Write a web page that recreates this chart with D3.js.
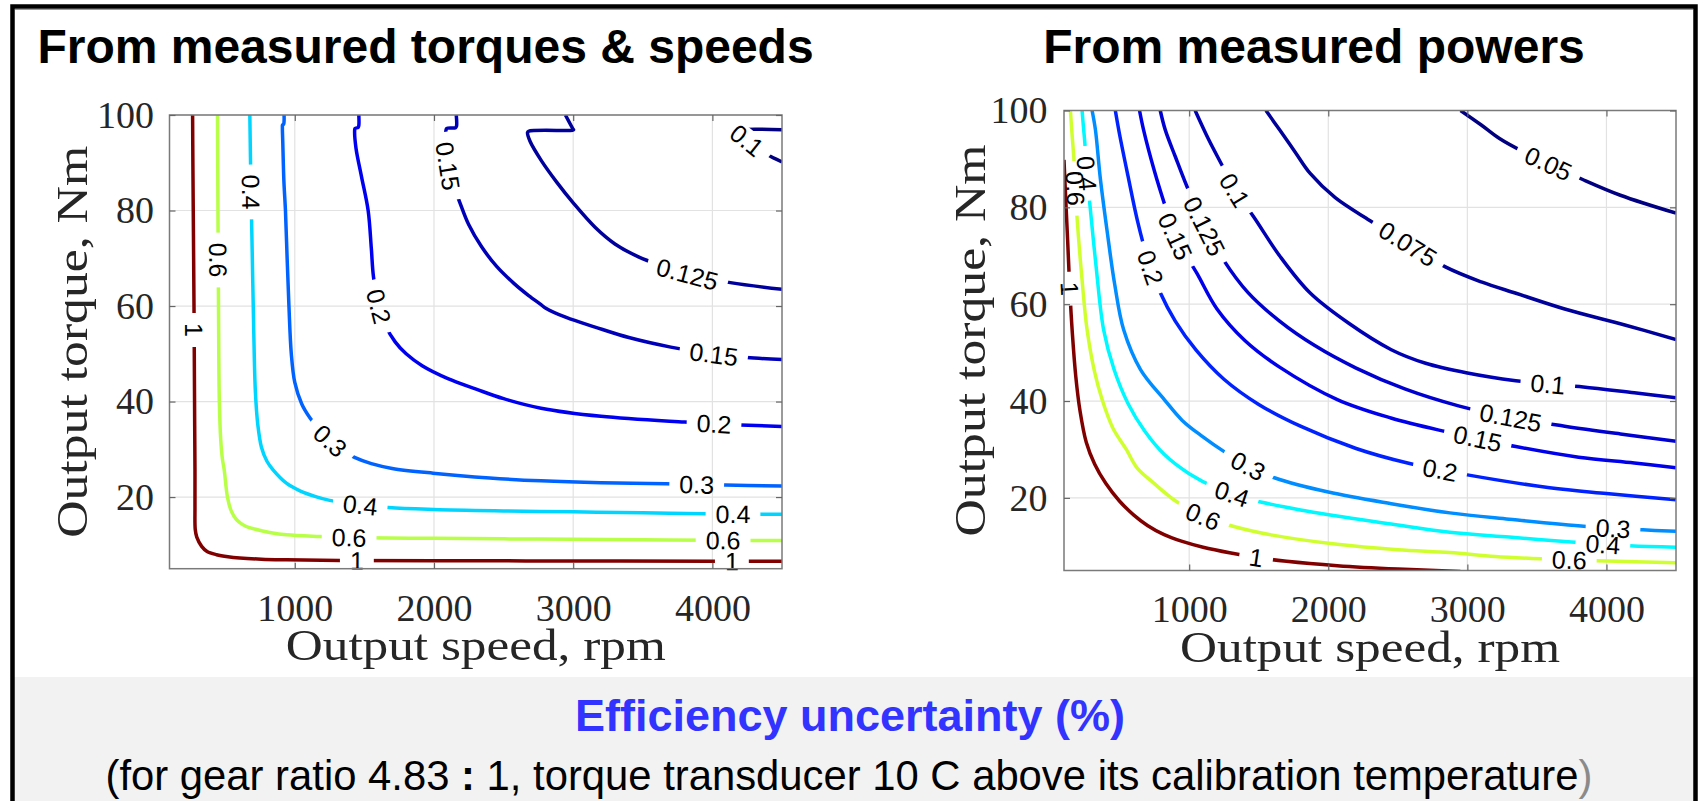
<!DOCTYPE html>
<html><head><meta charset="utf-8">
<script src="https://cdn.jsdelivr.net/npm/d3@7"></script>
<style>
html,body{margin:0;padding:0;background:#fff;}
svg{display:block;}
</style></head>
<body>
<svg id="c" width="1699" height="801"></svg>
<script>
// ================= DATA =================
const speedDomain = [100, 4500];
const torqueDomain = [5, 100];
const speedTicks = [1000, 2000, 3000, 4000];
const torqueTicks = [20, 40, 60, 80, 100];

const panelTitles = ["From measured torques & speeds", "From measured powers"];
const xLabelText = "Output speed, rpm";
const yLabelText = "Output torque, Nm";
const footerTitle = "Efficiency uncertainty (%)";
const footerNote = ["(for gear ratio 4.83 ", ":", " 1, torque transducer 10 C above its calibration temperature", ")"];

// ---- left panel: from measured torques & speeds  ([speed rpm, torque Nm]) ----
const leftLevels = [1, 0.6, 0.4, 0.3, 0.2, 0.15, 0.125, 0.1];
const left_1 = [[266,100],[268,90],[272,75],[276,60],[279,45],[281,35],[283,25.7],[283,18],[285,13.2],[296,11.6],[331,9.67],[370,8.6],[438,7.93],[520,7.5],[605,7.24],[760,7.0],[940,6.88],[1322,6.74],[2000,6.68],[3000,6.62],[4000,6.58],[4500,6.55]];
const left_06 = [[445,100],[448,80],[452,60],[458,40],[468,32],[480,28],[493,25.7],[517,19.9],[545,17],[582,15.25],[640,14.0],[725,13.2],[820,12.6],[940,12.1],[1178,11.76],[1500,11.5],[2000,11.35],[2500,11.25],[3000,11.15],[3500,11.05],[4000,10.95],[4500,10.9]];
const left_04 = [[677,100],[685,85],[695,70],[705,55],[717,42],[735,35],[760,30.5],[800,27.5],[844,25.7],[940,22.9],[1037,21.3],[1150,20.1],[1251,19.3],[1400,18.6],[1673,17.8],[2000,17.4],[2500,17.1],[3000,16.9],[3500,16.7],[3934,16.5],[4500,16.4]];
const left_03 = [[923,100],[923,98.7],[920,98.1],[912,97.9],[911,97.4],[914,94],[922,86],[933,80],[945,70],[958,60],[975,50],[1000,44],[1050,39.5],[1111,36.5],[1180,34],[1254,31.8],[1340,29.8],[1429,28.3],[1550,27.0],[1700,26.0],[1993,25.0],[2400,24.0],[2769,23.4],[3200,23.0],[3663,22.8],[4090,22.5],[4500,22.3]];
const left_02 = [[1460,100],[1460,97.8],[1455,97.4],[1433,97.2],[1430,96.7],[1440,93],[1480,87],[1527,80],[1550,72],[1565,66.2],[1604,59.9],[1650,56],[1721,52.5],[1800,50],[1915,47.5],[2100,44.8],[2303,42.6],[2500,40.6],[2769,38.6],[3200,36.9],[3800,35.7],[4200,35.1],[4500,34.8]];
const left_015 = [[2160,100],[2162,97.7],[2155,97.35],[2092,97.2],[2086,96.8],[2090,94],[2101,89.2],[2130,86],[2179,82.2],[2250,77],[2342,72.4],[2450,68.3],[2576,64.7],[2680,62.2],[2769,60.3],[2800,59.6],[2950,57.6],[3157,55.6],[3400,53.4],[3701,51.4],[4012,49.9],[4300,49.1],[4500,48.8]];
const left_0125 = [[2944,100],[2998,97.1],[3003,96.9],[2995,96.8],[2680,96.6],[2672,96.3],[2690,94.5],[2770,90.5],[2880,86],[3003,81.5],[3157,76.5],[3300,73],[3469,70.3],[3650,68.3],[3819,66.7],[4129,64.9],[4500,63.5]];
const left_01 = [[4500,96.9],[4215,96.9],[4200,96.7],[4195,96.2],[4290,93.8],[4390,91.8],[4500,90.2]];
const leftLabels = [
  [1, 272, 55], [1, 1449, 6.7], [1, 4137, 6.6],
  [0.6, 450, 69.7], [0.6, 1390, 11.5], [0.6, 4078, 10.95],
  [0.4, 690, 83.8], [0.4, 1468, 18.5], [0.4, 4148, 16.45],
  [0.3, 1254, 31.8], [0.3, 3884, 22.7],
  [0.2, 1604, 59.9], [0.2, 4012, 35.3],
  [0.15, 2101, 89.2], [0.15, 4012, 49.9],
  [0.125, 3819, 66.7],
  [0.1, 4240, 94.5]
];

// ---- right panel: from measured powers ----
const rightLevels = [1, 0.6, 0.4, 0.3, 0.2, 0.15, 0.125, 0.1, 0.075, 0.05];
const right_1 = [[100,89.8],[112,82],[126,73.3],[140,64],[160,54],[185,45],[215,38],[260,31.5],[320,27],[400,23],[500,19.3],[600,16.5],[700,14.3],[820,12.4],[950,11.0],[1100,9.8],[1300,8.6],[1481,7.7],[1700,6.9],[2065,6.0],[2500,5.3],[2950,4.8]];
const right_06 = [[146,100],[158,95],[170,90.5],[182,84],[194,77.8],[230,65],[266,54.7],[320,46],[374,40.3],[450,34.5],[548,30],[625,26.2],[743,23.1],[900,19.4],[1091,16.3],[1295,14.3],[1600,12.3],[2065,10.4],[2500,9.3],[2874,8.7],[3200,7.9],[3544,7.4],[3999,6.95],[4500,6.6]];
const right_04 = [[230,100],[240,96.5],[249,93.6],[265,87],[284,81.2],[330,68],[385,54.7],[460,46.5],[560,39.5],[680,33.8],[820,29.0],[1000,25.0],[1200,22.0],[1450,19.6],[1800,17.5],[2453,14.6],[2874,12.9],[3300,11.9],[3747,10.9],[4165,10.1],[4500,9.8]];
const right_03 = [[302,100],[326,96],[361,86],[409,75.3],[465,64],[529,54.7],[650,46.5],[821,40.3],[950,36],[1094,32.7],[1249,29.6],[1424,26.6],[1618,24.1],[2000,21.2],[2453,18.8],[2874,16.9],[3300,15.6],[3855,14.1],[4262,13.4],[4500,13.1]];
const right_02 = [[469,100],[500,95],[560,86.5],[630,77],[700,69.5],[790,62.5],[900,56.5],[1050,50.5],[1250,44.5],[1500,39.3],[1800,34.8],[2200,30.2],[2570,27.2],[2990,24.8],[3592,22.1],[4000,20.9],[4500,19.6]];
const right_015 = [[643,100],[672,96],[750,87.5],[828,80.2],[900,74],[1055,66.4],[1200,59],[1400,52.5],[1650,47],[2065,40.3],[2450,36.5],[2842,33.7],[3100,32.1],[3348,30.6],[3800,28.4],[4200,27.2],[4500,26.2]];
const right_0125 = [[792,100],[828,96],[900,90.5],[984,84.3],[1103,76.5],[1250,69],[1420,62.5],[1650,56.5],[1900,51.5],[2200,46.8],[2550,42.5],[2936,39],[3308,36.6],[3700,34.8],[4100,33.2],[4500,31.7]];
const right_01 = [[1043,100],[1140,94],[1247,88.1],[1326,83.6],[1462,78.1],[1650,70],[1870,62.3],[2150,56],[2453,50.6],[2700,47.8],[3000,45.8],[3348,44.2],[3580,43.5],[3833,42.9],[4200,41.7],[4500,40.7]];
const right_0075 = [[1552,100],[1650,96],[1760,91.5],[1870,87],[2050,82],[2298,77.3],[2570,72.5],[2842,67.7],[3100,64.6],[3355,62.2],[3700,59],[4132,55.7],[4500,52.7]];
const right_005 = [[2951,100],[3100,97],[3231,94.2],[3400,91.5],[3580,89.1],[3833,85.7],[4100,82.5],[4500,78.8]];
const rightLabels = [
  [1, 150, 63.3], [1, 1481, 7.6],
  [0.6, 176, 84], [0.6, 1091, 15.6], [0.6, 3735, 7.1],
  [0.4, 262, 87], [0.4, 1307, 20.6], [0.4, 3974, 10.4],
  [0.3, 1424, 26.6], [0.3, 4046, 13.7],
  [0.2, 708, 67.4], [0.2, 2802, 26.0],
  [0.15, 900, 74], [0.15, 3075, 32.2],
  [0.125, 1103, 76], [0.125, 3308, 36.5],
  [0.1, 1326, 83.6], [0.1, 3580, 43.6],
  [0.075, 2570, 72.5],
  [0.05, 3580, 89.1]
];

// ================= LAYOUT / STYLE =================
const W = 1699, H = 801;
const svg = d3.select('#c');
const defs = svg.append('defs');

function jet(v) {
  const c = f => Math.min(1, Math.max(0, f));
  return d3.rgb(255 * c(1.5 - Math.abs(4 * v - 3)), 255 * c(1.5 - Math.abs(4 * v - 2)), 255 * c(1.5 - Math.abs(4 * v - 1))).formatHex();
}

// footer band
svg.append('rect').attr('x', 12).attr('y', 677).attr('width', 1683).attr('height', 140).attr('fill', '#f2f2f2');

const panels = [
  { id: 'L', x0: 169.5, x1: 782, y0: 115, y1: 568.7, lw: 3.5,
    levels: leftLevels, lines: [left_1, left_06, left_04, left_03, left_02, left_015, left_0125, left_01], labels: leftLabels,
    titleX: 425.5, ytickPad: 15.5, xlabY: 660, ylabX: 87 },
  { id: 'R', x0: 1064, x1: 1676, y0: 110.5, y1: 570.5, lw: 3.5,
    levels: rightLevels, lines: [right_1, right_06, right_04, right_03, right_02, right_015, right_0125, right_01, right_0075, right_005], labels: rightLabels,
    titleX: 1314, ytickPad: 16.6, xlabY: 661.5, ylabX: 985 }
];

const labelFont = 25, labelPad = 10;

panels.forEach((p, pi) => {
  const g = svg.append('g');
  const x = d3.scaleLinear().domain(speedDomain).range([p.x0, p.x1]);
  const y = d3.scaleLinear().domain(torqueDomain).range([p.y1, p.y0]);

  // title
  svg.append('text').attr('x', p.titleX).attr('y', 63).attr('text-anchor', 'middle')
    .attr('font-family', 'Liberation Sans, Arial, sans-serif').attr('font-weight', 'bold')
    .attr('font-size', 48).attr('fill', '#000').text(panelTitles[pi]);

  // grid
  g.append('g').selectAll('line').data(speedTicks).join('line')
    .attr('x1', d => x(d)).attr('x2', d => x(d)).attr('y1', p.y0).attr('y2', p.y1)
    .attr('stroke', '#e2e2e2').attr('stroke-width', 1.2);
  g.append('g').selectAll('line').data(torqueTicks).join('line')
    .attr('y1', d => y(d)).attr('y2', d => y(d)).attr('x1', p.x0).attr('x2', p.x1)
    .attr('stroke', '#e2e2e2').attr('stroke-width', 1.2);

  // clip
  const cid = 'clip' + p.id;
  defs.append('clipPath').attr('id', cid).append('rect')
    .attr('x', p.x0).attr('y', p.y0).attr('width', p.x1 - p.x0).attr('height', p.y1 - p.y0);

  const line = d3.line().x(d => x(d[0])).y(d => y(d[1])).curve(d3.curveCatmullRom.alpha(0.5));
  const lmin = d3.min(p.levels), lmax = d3.max(p.levels);
  const cg = g.append('g').attr('clip-path', `url(#${cid})`);
  const labelG = g.append('g');

  p.levels.forEach((lev, i) => {
    const maskId = `m${p.id}${i}`;
    const mask = defs.append('mask').attr('id', maskId).attr('maskUnits', 'userSpaceOnUse')
      .attr('x', 0).attr('y', 0).attr('width', W).attr('height', H);
    mask.append('rect').attr('x', 0).attr('y', 0).attr('width', W).attr('height', H).attr('fill', '#fff');
    const path = cg.append('path').attr('d', line(p.lines[i])).attr('fill', 'none')
      .attr('stroke', jet((lev - lmin) / (lmax - lmin))).attr('stroke-width', p.lw)
      .attr('stroke-linejoin', 'round').attr('mask', `url(#${maskId})`);
    const node = path.node();
    const L = node.getTotalLength();
    p.labels.filter(l => l[0] === lev).forEach(l => {
      const px = x(l[1]), py = y(l[2]);
      let best = 0, bd = Infinity;
      for (let s = 0; s <= L; s += 1) {
        const q = node.getPointAtLength(s);
        const d = (q.x - px) ** 2 + (q.y - py) ** 2;
        if (d < bd) { bd = d; best = s; }
      }
      const q = node.getPointAtLength(best);
      const a = node.getPointAtLength(Math.max(0, best - 8));
      const b = node.getPointAtLength(Math.min(L, best + 8));
      let ang = Math.atan2(b.y - a.y, b.x - a.x) * 180 / Math.PI;
      if (ang > 90) ang -= 180;
      if (ang <= -90) ang += 180;
      const tf = `translate(${q.x},${q.y}) rotate(${ang})`;
      const t = labelG.append('text').attr('transform', tf).attr('text-anchor', 'middle').attr('dy', '0.36em')
        .attr('font-family', 'Liberation Sans, Arial, sans-serif').attr('font-size', labelFont).attr('fill', '#000')
        .text(String(lev));
      const w = t.node().getComputedTextLength();
      mask.append('rect').attr('transform', tf).attr('x', -w / 2 - labelPad).attr('y', -labelFont * 0.45)
        .attr('width', w + 2 * labelPad).attr('height', labelFont * 0.9).attr('fill', '#000');
    });
  });

  // axes box
  g.append('rect').attr('x', p.x0).attr('y', p.y0).attr('width', p.x1 - p.x0).attr('height', p.y1 - p.y0)
    .attr('fill', 'none').attr('stroke', '#7a7a7a').attr('stroke-width', 1.5);

  const styleAxis = (ax) => {
    ax.select('.domain').remove();
    ax.selectAll('.tick line').attr('stroke', '#666').attr('stroke-width', 1.2);
    ax.selectAll('.tick text').attr('font-family', 'Liberation Serif, Times New Roman, serif')
      .attr('font-size', 38).attr('fill', '#262626');
  };
  const fmt = d3.format('d');
  g.append('g').attr('transform', `translate(0,${p.y1})`)
    .call(d3.axisBottom(x).tickValues(speedTicks).tickFormat(fmt).tickSizeInner(-6).tickSizeOuter(0).tickPadding(25)).call(styleAxis);
  g.append('g').attr('transform', `translate(${p.x0},0)`)
    .call(d3.axisLeft(y).tickValues(torqueTicks).tickFormat(fmt).tickSizeInner(-6).tickSizeOuter(0).tickPadding(p.ytickPad)).call(styleAxis);
  g.append('g').attr('transform', `translate(0,${p.y0})`)
    .call(d3.axisTop(x).tickValues(speedTicks).tickSizeInner(-6).tickSizeOuter(0).tickFormat(() => '')).call(styleAxis);
  g.append('g').attr('transform', `translate(${p.x1},0)`)
    .call(d3.axisRight(y).tickValues(torqueTicks).tickSizeInner(-6).tickSizeOuter(0).tickFormat(() => '')).call(styleAxis);

  // axis labels
  g.append('text').attr('x', (p.x0 + p.x1) / 2).attr('y', p.xlabY).attr('text-anchor', 'middle')
    .attr('font-family', 'Liberation Serif, Times New Roman, serif').attr('font-size', 45).attr('fill', '#262626')
    .attr('textLength', 380).attr('lengthAdjust', 'spacingAndGlyphs').text(xLabelText);
  g.append('text').attr('transform', `translate(${p.ylabX},${(p.y0 + p.y1) / 2}) rotate(-90)`).attr('text-anchor', 'middle')
    .attr('font-family', 'Liberation Serif, Times New Roman, serif').attr('font-size', 45).attr('fill', '#262626')
    .attr('textLength', 392).attr('lengthAdjust', 'spacingAndGlyphs').text(yLabelText);
});

// footer texts
svg.append('text').attr('x', 850).attr('y', 731).attr('text-anchor', 'middle')
  .attr('font-family', 'Liberation Sans, Arial, sans-serif').attr('font-weight', 'bold').attr('font-size', 45)
  .attr('fill', '#3333ff').text(footerTitle);
const note = svg.append('text').attr('x', 849).attr('y', 790).attr('text-anchor', 'middle')
  .attr('font-family', 'Liberation Sans, Arial, sans-serif').attr('font-size', 41.8).attr('fill', '#000');
note.append('tspan').text(footerNote[0]);
note.append('tspan').attr('font-weight', 'bold').text(footerNote[1]);
note.append('tspan').text(footerNote[2]);
note.append('tspan').attr('fill', '#8a8a8a').text(footerNote[3]);

// frame
svg.append('rect').attr('x', 12.5).attr('y', 6.5).attr('width', 1683).attr('height', 900)
  .attr('fill', 'none').attr('stroke', '#000').attr('stroke-width', 4.5);
svg.append('line').attr('x1', 15).attr('x2', 1693).attr('y1', 9.5).attr('y2', 9.5).attr('stroke', '#999').attr('stroke-width', 1);
</script>
</body></html>
